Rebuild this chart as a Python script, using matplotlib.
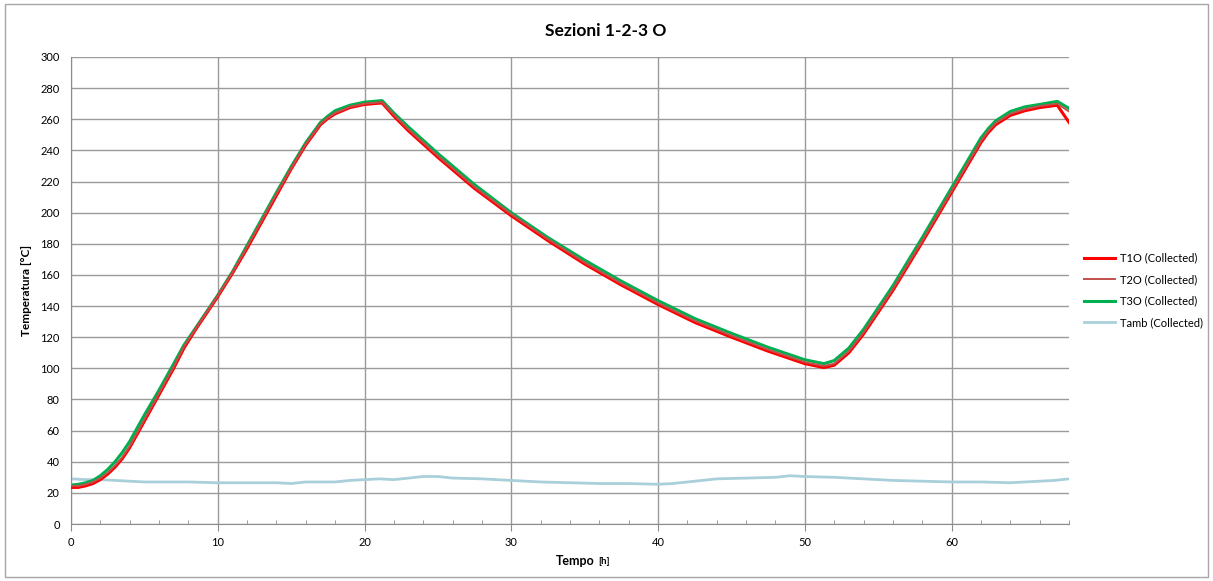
import matplotlib
matplotlib.use('Agg')
import matplotlib.pyplot as plt
from matplotlib.patches import Rectangle
from matplotlib.ticker import MultipleLocator

plt.rcParams['font.family'] = ['Lato', 'DejaVu Sans']

# time [h] and temperatures [°C]
t = [0, 0.5, 1, 1.5, 2, 2.5, 3, 3.5, 4, 5, 6, 7, 7.7, 8.5, 10, 11, 12, 13, 14, 15,
     16, 17, 17.5, 18, 19, 20, 21.2, 22, 23, 25, 27.5, 30, 32.5, 35, 37.5, 40,
     42.5, 45, 47.5, 50, 51.3, 52, 53, 54, 55, 56, 58, 60, 61, 62, 62.5, 63, 64,
     65, 66, 67.2, 68]
t1o = [23.5, 23.5, 24.5, 26, 28.5, 32, 36.5, 42, 49, 66, 83, 100, 113, 125, 146,
       161, 177, 194, 211, 228, 243.5, 256.5, 260.5, 263.5, 267.5, 269.5, 270.5, 262,
       252.5, 235.5, 215.5, 198, 182, 167, 153.5, 141, 129.5, 120, 111, 103, 100.5,
       102, 110, 122, 136, 150, 181, 213, 229, 245, 251.5, 256.5, 262.5, 265.5,
       267.5, 269, 258]
t2o = [24.5, 24.5, 25.5, 27, 29.5, 33, 37.5, 43, 50, 67, 84, 101, 114, 125.5, 146.5,
       161.5, 178, 195, 212, 228.5, 244, 257, 261, 264, 268, 270, 271, 263,
       253.5, 236.5, 216.5, 199, 183, 168, 154.5, 142, 130.5, 121, 112, 104, 101.5,
       103, 111, 123, 137, 151, 182, 214, 230, 246, 252.5, 257.5, 263.5, 266.5,
       268.5, 270, 265]
t3o = [25, 25.5, 26.5, 28, 31, 35, 40, 46, 53, 70, 86, 103, 115, 126, 147, 162, 179,
       196, 213, 229.5, 245, 258, 262, 265.5, 269, 271, 272, 264, 255, 238, 218, 200,
       184, 169.5, 156, 143.5, 132, 122.5, 113.5, 105.5, 103, 105, 113, 125, 139,
       153, 184, 216, 232, 248, 254, 259, 265, 268, 269.5, 271.5, 267]

t_amb = [0, 1, 2, 3, 4, 5, 6, 8, 10, 12, 14, 15, 16, 18, 19, 20, 21, 22, 23, 24, 25,
         26, 28, 30, 32, 34, 36, 38, 40, 41, 42, 43, 44, 46, 48, 49, 50, 52, 54, 56,
         58, 60, 62, 64, 66, 67, 68]
tamb = [29, 28.5, 28.5, 28, 27.5, 27, 27, 27, 26.5, 26.5, 26.5, 26, 27, 27, 28, 28.5,
        29, 28.5, 29.5, 30.5, 30.5, 29.5, 29, 28, 27, 26.5, 26, 26, 25.5, 26, 27, 28,
        29, 29.5, 30, 31, 30.5, 30, 29, 28, 27.5, 27, 27, 26.5, 27.5, 28, 29]

fig = plt.figure(figsize=(12.13, 5.81), dpi=100)
ax = fig.add_axes([0.0585, 0.0981, 0.8228, 0.8038])

ax.plot(t, t1o, color='#FF0000', lw=2.2, label='T1O (Collected)', zorder=3)
ax.plot(t, t2o, color='#C0504D', lw=1.4, label='T2O (Collected)', zorder=4)
ax.plot(t, t3o, color='#00B050', lw=2.2, label='T3O (Collected)', zorder=2)
ax.plot(t_amb, tamb, color='#A9CFDB', lw=2.0, label='Tamb (Collected)', zorder=1)

ax.set_xlim(0, 68)
ax.set_ylim(0, 300)
ax.xaxis.set_major_locator(MultipleLocator(10))
ax.xaxis.set_minor_locator(MultipleLocator(2))
ax.yaxis.set_major_locator(MultipleLocator(20))
ax.grid(True, which='major', color='#9A9A9A', lw=1.0)
ax.set_axisbelow(True)
for s in ['top', 'right']:
    ax.spines[s].set_visible(False)
for s in ['left', 'bottom']:
    ax.spines[s].set_color('#8C8C8C')
ax.tick_params(axis='x', which='major', direction='out', length=5, color='#8C8C8C',
               labelsize=8, pad=4)
ax.tick_params(axis='x', which='minor', direction='in', length=3, color='#8C8C8C')
ax.tick_params(axis='y', length=0, labelsize=8, pad=8)

ax.set_ylabel('Temperatura [°C]', fontsize=8.5, fontweight='bold', labelpad=6)
xl = fig.text(0.4745, 0.034, 'Tempo', fontsize=9, fontweight='bold',
              ha='center', va='center')
ax.annotate('[h]', xy=(1, 0.5), xycoords=xl, xytext=(2.5, 0), textcoords='offset points',
            fontsize=7, fontweight='bold', ha='left', va='center', annotation_clip=False)
fig.text(0.499, 0.947, 'Sezioni 1-2-3 O', fontsize=12.5, fontweight='bold',
         ha='center', va='center')

ax.legend(loc='center left', bbox_to_anchor=(1.005, 0.5), frameon=False, fontsize=8,
          handlelength=2.8, labelspacing=0.95, handletextpad=0.4)

fig.patches.append(Rectangle((0.004, 0.007), 0.992, 0.986, transform=fig.transFigure,
                             fill=False, edgecolor='#A6A6A6', lw=1.0))

fig.savefig('out.png', dpi=100)
